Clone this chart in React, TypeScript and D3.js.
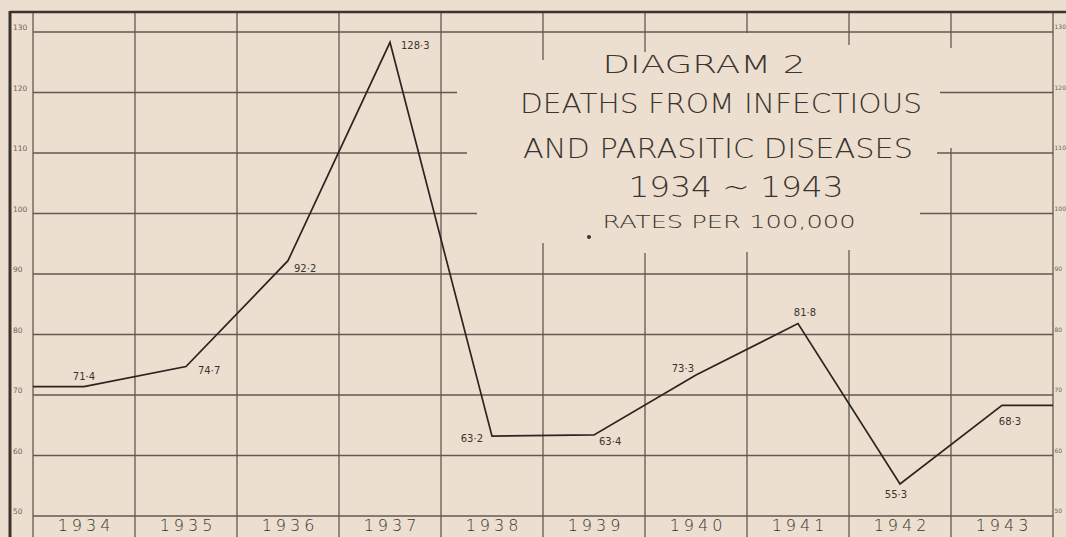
import * as d3 from 'd3';
import React from "react";

// data
const YEARS = ['1934', '1935', '1936', '1937', '1938', '1939', '1940', '1941', '1942', '1943'];
const RATES = [71.4, 74.7, 92.2, 128.3, 63.2, 63.4, 73.3, 81.8, 55.3, 68.3];
const RATE_LABELS = ['71·4', '74·7', '92·2', '128·3', '63·2', '63·4', '73·3', '81·8', '55·3', '68·3'];
const Y_TICKS = [50, 60, 70, 80, 90, 100, 110, 120, 130];
const TITLE = ['DIAGRAM  2', 'DEATHS FROM INFECTIOUS', 'AND PARASITIC DISEASES', '1934 ~ 1943', 'RATES  PER  100,000'];

const WIDTH = 1066;
const HEIGHT = 537;
const LEFT = 33;
const RIGHT = 1053;
const TOP = 32;
const BOTTOM = 516;

const PAPER = '#ecdfd0';
const INK = '#3b342e';
const GRID = '#62584f';

// label placement around each point: dx, dy, anchor
const LABEL_POS: [number, number, string][] = [
    [0, -7, 'middle'],
    [12, 7, 'start'],
    [6, 11, 'start'],
    [11, 7, 'start'],
    [-9, 6, 'end'],
    [5, 10, 'start'],
    [-2, -3, 'end'],
    [7, -8, 'middle'],
    [-4, 14, 'middle'],
    [8, 20, 'middle'],
];

// where the title box cuts the grid
const H_GAPS: Record<number, [number, number]> = {120: [457, 940], 110: [467, 937], 100: [477, 920]};
const V_GAPS: Record<number, [number, number]> = {5: [60, 243], 6: [52, 253], 7: [33, 252], 8: [45, 250], 9: [48, 148]};

// title lines: centre x, baseline, size, width
const TITLE_LAYOUT: [number, number, number, number][] = [
    [704, 73, 25, 203],
    [721, 113, 26, 402],
    [718, 158, 26, 390],
    [736, 197, 28, 215],
    [729, 228, 17, 253],
];

export default function App() {
    const x = d3.scaleBand<string>().domain(YEARS).range([LEFT, RIGHT]);
    const y = d3.scaleLinear().domain([50, 130]).range([BOTTOM, TOP]);
    const cx = (i: number) => (x(YEARS[i]) as number) + x.bandwidth() / 2;

    const pts: [number, number][] = RATES.map((v, i) => [cx(i), y(v)]);
    const linePts: [number, number][] = [[LEFT, y(RATES[0])], ...pts, [RIGHT, y(RATES[RATES.length - 1])]];
    const path = d3.line()(linePts) as string;

    const vLines = d3.range(YEARS.length + 1).map(i =>
        i < YEARS.length ? (x(YEARS[i]) as number) : RIGHT);

    return (
        <svg width={WIDTH} height={HEIGHT} style={{position: 'absolute', left: 0, top: 0, background: PAPER}}
             fontFamily="'DejaVu Sans', sans-serif">
            <rect width={WIDTH} height={HEIGHT} fill={PAPER}/>

            {/* horizontal grid */}
            {Y_TICKS.map(t => {
                const gap = H_GAPS[t];
                const yy = y(t);
                return gap ? (
                    <g key={t}>
                        <line x1={LEFT} x2={gap[0]} y1={yy} y2={yy} stroke={GRID} strokeWidth={1.3}/>
                        <line x1={gap[1]} x2={RIGHT} y1={yy} y2={yy} stroke={GRID} strokeWidth={1.3}/>
                    </g>
                ) : <line key={t} x1={LEFT} x2={RIGHT} y1={yy} y2={yy} stroke={GRID} strokeWidth={1.3}/>;
            })}

            {/* vertical grid, running down through the year row */}
            {vLines.map((xx, i) => {
                const gap = V_GAPS[i];
                return gap ? (
                    <g key={i}>
                        <line x1={xx} x2={xx} y1={12} y2={gap[0]} stroke={GRID} strokeWidth={1.3}/>
                        <line x1={xx} x2={xx} y1={gap[1]} y2={HEIGHT} stroke={GRID} strokeWidth={1.3}/>
                    </g>
                ) : <line key={i} x1={xx} x2={xx} y1={12} y2={HEIGHT} stroke={GRID} strokeWidth={1.3}/>;
            })}

            {/* frame */}
            <line x1={10} x2={WIDTH} y1={12} y2={12} stroke={INK} strokeWidth={2.4}/>
            <line x1={10} x2={10} y1={11} y2={HEIGHT} stroke={INK} strokeWidth={3}/>

            {/* scale figures, both edges */}
            {Y_TICKS.map(t => (
                <g key={'l' + t} fontSize={7.5} fill="#6f6358">
                    <text x={13} y={y(t) - 2}>{t}</text>
                    <text x={RIGHT + 1.5} y={y(t) - 3} fontSize={6}>{t}</text>
                </g>
            ))}

            {/* years */}
            {YEARS.map(yr => (
                <text key={yr} x={(x(yr) as number) + x.bandwidth() / 2 + 2} y={531} fontSize={16}
                      textAnchor="middle" letterSpacing={4} fill={INK} fontWeight={300}>{yr}</text>
            ))}

            {/* data line */}
            <path d={path} fill="none" stroke="#2a2520" strokeWidth={1.7} strokeLinejoin="miter"/>

            {pts.map(([px, py], i) => (
                <text key={'v' + i} x={px + LABEL_POS[i][0]} y={py + LABEL_POS[i][1]} fontSize={10}
                      textAnchor={LABEL_POS[i][2]} fill={INK}>{RATE_LABELS[i]}</text>
            ))}

            {/* title */}
            {TITLE.map((s, i) => {
                const [tx, ty, fs, w] = TITLE_LAYOUT[i];
                return (
                    <text key={s} x={tx - w / 2} y={ty} fontSize={fs} textLength={w} lengthAdjust="spacingAndGlyphs"
                          fill={INK} fontWeight={300}>{s}</text>
                );
            })}
            <circle cx={589} cy={237} r={2} fill={INK}/>
        </svg>
    );
}
